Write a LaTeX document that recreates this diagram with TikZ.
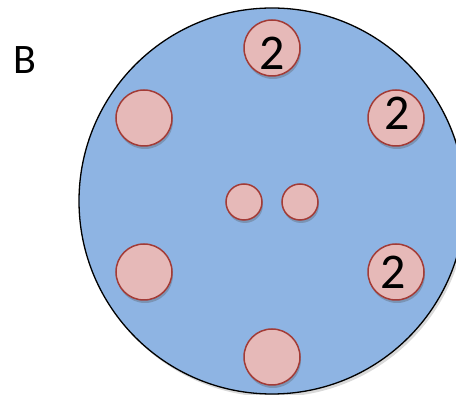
\documentclass[tikz,border=0pt]{standalone}
\usepackage{fontspec}
\setmainfont{Carlito}
\usetikzlibrary{shadows}
\definecolor{bigfill}{HTML}{8EB4E3}
\definecolor{dotfill}{HTML}{E6B9B8}
\definecolor{dotline}{HTML}{A33B36}
\tikzset{
  disc/.style={circle, draw=dotline, line width=1.5pt, fill=dotfill, minimum size=56pt, inner sep=0pt,
    drop shadow={shadow xshift=1pt, shadow yshift=-3pt, opacity=0.3, fill=black!70}},
  smalldisc/.style={disc, minimum size=36pt},
  numlabel/.style={font=\fontsize{50}{50}\selectfont, text=black, inner sep=0pt},
}
\begin{document}
\begin{tikzpicture}[x=1pt,y=-1pt]
\useasboundingbox (0,0) rectangle (456,395);
\node[circle, draw=black, line width=1.3pt, fill=bigfill, minimum size=386pt, inner sep=0pt,
  drop shadow={shadow xshift=2pt, shadow yshift=-3pt, opacity=0.25, fill=black!60}] (big) at (272,201) {};
\node[font=\fontsize{42}{42}\selectfont, inner sep=0pt] (lab) at (25,60) {B};
\node[disc] (t) at (272,48) {};
\node[disc] (ul) at (144,118) {};
\node[disc] (ur) at (396,118) {};
\node[disc] (ll) at (144,272) {};
\node[disc] (lr) at (396,272) {};
\node[disc] (b) at (272,357) {};
\node[smalldisc] (m1) at (244,202) {};
\node[smalldisc] (m2) at (300,202) {};
\node[numlabel] (tn) at (272,53) {2};
\node[numlabel] (urn) at (397,113) {2};
\node[numlabel] (lrn) at (393,272) {2};
\end{tikzpicture}
\end{document}
